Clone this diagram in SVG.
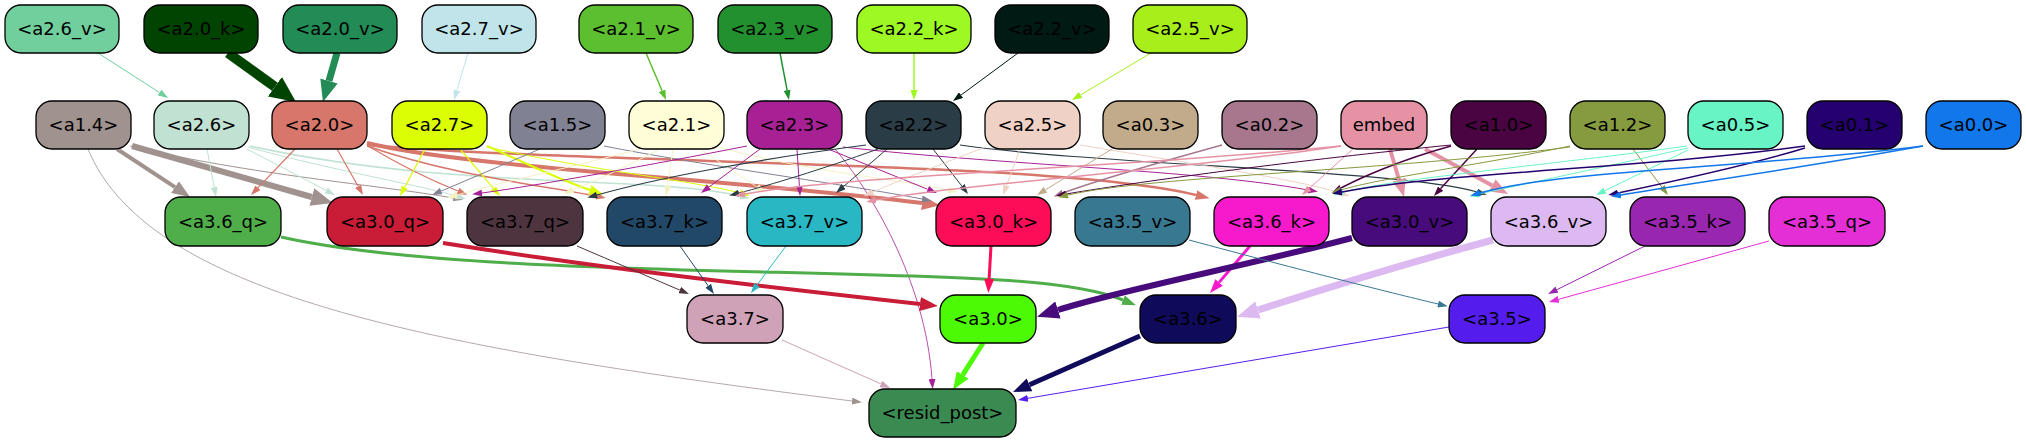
<svg xmlns="http://www.w3.org/2000/svg" width="2026" height="443" viewBox="0 0 2026 443">
<style>
.n rect{stroke:#000;stroke-width:1.3}
.n text{font-family:"DejaVu Sans",sans-serif;font-size:18px;text-anchor:middle;fill:#000}
#edges path{fill:none}
</style>
<defs>
<marker id="s" viewBox="0 0 10 7" refX="0" refY="3.5" markerWidth="10" markerHeight="7" markerUnits="userSpaceOnUse" orient="auto"><path d="M0,0L10,3.5L0,7z" fill="context-stroke"/></marker>
<marker id="m" viewBox="0 0 14 10" refX="0" refY="5" markerWidth="14" markerHeight="10" markerUnits="userSpaceOnUse" orient="auto"><path d="M0,0L14,5L0,10z" fill="context-stroke"/></marker>
<marker id="l" viewBox="0 0 18 14" refX="0" refY="7" markerWidth="18" markerHeight="14" markerUnits="userSpaceOnUse" orient="auto"><path d="M0,0L18,7L0,14z" fill="context-stroke"/></marker>
<marker id="x" viewBox="0 0 22 18" refX="0" refY="9" markerWidth="22" markerHeight="18" markerUnits="userSpaceOnUse" orient="auto"><path d="M0,0L22,9L0,18z" fill="context-stroke"/></marker>
<marker id="xx" viewBox="0 0 26 24" refX="0" refY="12" markerWidth="26" markerHeight="24" markerUnits="userSpaceOnUse" orient="auto"><path d="M0,0L26,12L0,24z" fill="context-stroke"/></marker>
</defs>
<rect width="2026" height="443" fill="#fff"/>
<g id="edges">
<path d="M98,53L159.6,92.6" stroke="#70cf9d" stroke-width="1" marker-end="url(#s)"/>
<path d="M228,53L274.9,86.8" stroke="#014401" stroke-width="10" marker-end="url(#xx)"/>
<path d="M337,53L329,80.9" stroke="#228b56" stroke-width="7" marker-end="url(#x)"/>
<path d="M468,53L456.9,90.4" stroke="#c0e4e9" stroke-width="1" marker-end="url(#s)"/>
<path d="M646,53L662.1,90.8" stroke="#5cbf2f" stroke-width="1.5" marker-end="url(#s)"/>
<path d="M780,53L787.1,90.2" stroke="#23902f" stroke-width="1.5" marker-end="url(#s)"/>
<path d="M914,53L914,90" stroke="#9df823" stroke-width="1.5" marker-end="url(#s)"/>
<path d="M1018,53L961,95.1" stroke="#011a14" stroke-width="1" marker-end="url(#s)"/>
<path d="M1151,53L1080.6,94.9" stroke="#a7ee1b" stroke-width="1" marker-end="url(#s)"/>
<path d="M117,149L175,187.1" stroke="#a0938f" stroke-width="4" marker-end="url(#l)"/>
<path d="M132,146L311.8,197" stroke="#a0938f" stroke-width="6" marker-end="url(#x)"/>
<path d="M130,146C250,175 380,185 453,198" stroke="#a0938f" stroke-width="1" marker-end="url(#s)"/>
<path d="M88,149C150,300 450,350 852,401" stroke="#a0938f" stroke-width="0.8" marker-end="url(#s)"/>
<path d="M207,149L214.2,187.2" stroke="#c1e2d2" stroke-width="1" marker-end="url(#s)"/>
<path d="M247,149L326.1,190.4" stroke="#c1e2d2" stroke-width="1" marker-end="url(#s)"/>
<path d="M248,147C330,170 420,185 456,196" stroke="#c1e2d2" stroke-width="1" marker-end="url(#s)"/>
<path d="M250,146C450,190 650,175 740,196" stroke="#c1e2d2" stroke-width="1.5" marker-end="url(#s)"/>
<path d="M295,149L257.9,187.8" stroke="#d7766a" stroke-width="1.2" marker-end="url(#s)"/>
<path d="M337,149L358.1,186.3" stroke="#d7766a" stroke-width="1.2" marker-end="url(#s)"/>
<path d="M368,146C400,165 430,180 458,191" stroke="#d7766a" stroke-width="1.2" marker-end="url(#s)"/>
<path d="M367,146C450,175 540,185 596,196" stroke="#d7766a" stroke-width="1.5" marker-end="url(#s)"/>
<path d="M367,143C470,168 720,178 922,203" stroke="#d7766a" stroke-width="4" marker-end="url(#l)"/>
<path d="M367,145C600,165 1050,160 1196,195" stroke="#d7766a" stroke-width="2.5" marker-end="url(#m)"/>
<path d="M425,149L404.7,187.2" stroke="#dcfe05" stroke-width="1.2" marker-end="url(#s)"/>
<path d="M460,149L493.5,188.4" stroke="#dcfe05" stroke-width="1.2" marker-end="url(#s)"/>
<path d="M487,146C530,165 560,180 590,190" stroke="#dcfe05" stroke-width="2" marker-end="url(#m)"/>
<path d="M487,147C600,172 690,180 740,193" stroke="#dcfe05" stroke-width="1" marker-end="url(#s)"/>
<path d="M540,149L441.2,191.1" stroke="#808294" stroke-width="1" marker-end="url(#s)"/>
<path d="M604,146C700,165 850,185 922,199" stroke="#808294" stroke-width="1" marker-end="url(#s)"/>
<path d="M640,149C560,170 490,185 457,195" stroke="#f4f2c4" stroke-width="1" marker-end="url(#s)"/>
<path d="M660,149C620,170 590,183 573,190" stroke="#f4f2c4" stroke-width="1" marker-end="url(#s)"/>
<path d="M673,149L667.6,186" stroke="#f4f2c4" stroke-width="1" marker-end="url(#s)"/>
<path d="M700,149L757,187" stroke="#f4f2c4" stroke-width="1" marker-end="url(#s)"/>
<path d="M718,147C800,170 900,180 948,190" stroke="#f4f2c4" stroke-width="1" marker-end="url(#s)"/>
<path d="M747,146C650,165 540,185 482,193" stroke="#a72195" stroke-width="1" marker-end="url(#s)"/>
<path d="M760,149L709,187" stroke="#a72195" stroke-width="1" marker-end="url(#s)"/>
<path d="M797,149L799.4,186" stroke="#a72195" stroke-width="1" marker-end="url(#s)"/>
<path d="M828,149L927.7,189.3" stroke="#a72195" stroke-width="1" marker-end="url(#s)"/>
<path d="M835,149C870,190 925,280 932,379" stroke="#a72195" stroke-width="0.8" marker-end="url(#s)"/>
<path d="M843,147C1000,165 1200,170 1308,190" stroke="#a72195" stroke-width="1" marker-end="url(#s)"/>
<path d="M866,145C750,160 650,180 597,195" stroke="#2a3c45" stroke-width="1.2" marker-end="url(#s)"/>
<path d="M878,149C820,170 770,185 739,193" stroke="#2a3c45" stroke-width="1" marker-end="url(#s)"/>
<path d="M887,149L843.6,186.5" stroke="#2a3c45" stroke-width="1" marker-end="url(#s)"/>
<path d="M933,149L961.9,186.1" stroke="#2a3c45" stroke-width="1" marker-end="url(#s)"/>
<path d="M960,145C1100,165 1400,170 1477,192" stroke="#2a3c45" stroke-width="1.2" marker-end="url(#s)"/>
<path d="M1020,149L1006.5,185.6" stroke="#efd2c5" stroke-width="1" marker-end="url(#s)"/>
<path d="M985,147C940,165 900,180 873,192" stroke="#efd2c5" stroke-width="1" marker-end="url(#s)"/>
<path d="M1080,145C1200,165 1300,180 1340,193" stroke="#efd2c5" stroke-width="1" marker-end="url(#s)"/>
<path d="M1112,149L1045.5,189.8" stroke="#c2ab8a" stroke-width="1" marker-end="url(#s)"/>
<path d="M1222,145C1150,165 1090,183 1063,193" stroke="#a7778e" stroke-width="1.5" marker-end="url(#s)"/>
<path d="M1341,146C1200,168 950,185 876,200" stroke="#e692a5" stroke-width="1.5" marker-end="url(#s)"/>
<path d="M1341,146C1150,166 850,175 745,194" stroke="#e692a5" stroke-width="1.5" marker-end="url(#s)"/>
<path d="M1353,149L1309.4,188.3" stroke="#e692a5" stroke-width="1" marker-end="url(#s)"/>
<path d="M1390,149L1399,179.7" stroke="#e692a5" stroke-width="4" marker-end="url(#l)"/>
<path d="M1425,149L1492.2,185.4" stroke="#e692a5" stroke-width="4" marker-end="url(#l)"/>
<path d="M1477,149L1440.7,188.6" stroke="#4a0442" stroke-width="1.5" marker-end="url(#s)"/>
<path d="M1451,146C1400,160 1360,178 1341,188" stroke="#4a0442" stroke-width="1.5" marker-end="url(#s)"/>
<path d="M1451,145C1300,160 1150,180 1066,194" stroke="#4a0442" stroke-width="1" marker-end="url(#s)"/>
<path d="M1633,149L1661.9,187" stroke="#869a40" stroke-width="1" marker-end="url(#s)"/>
<path d="M1570,146C1480,165 1380,178 1341,190" stroke="#869a40" stroke-width="1" marker-end="url(#s)"/>
<path d="M1570,147C1400,170 1150,176 1068,195" stroke="#869a40" stroke-width="1" marker-end="url(#s)"/>
<path d="M1688,150L1605,190.6" stroke="#68f4c5" stroke-width="1" marker-end="url(#s)"/>
<path d="M1687,146C1550,165 1400,178 1343,192" stroke="#68f4c5" stroke-width="1" marker-end="url(#s)"/>
<path d="M1688,148C1600,168 1520,185 1479,194" stroke="#68f4c5" stroke-width="1" marker-end="url(#s)"/>
<path d="M1805,148C1750,165 1680,180 1618,193" stroke="#25016f" stroke-width="1.5" marker-end="url(#s)"/>
<path d="M1805,146C1650,168 1450,172 1342,192" stroke="#25016f" stroke-width="1.5" marker-end="url(#s)"/>
<path d="M1923,146C1800,168 1700,182 1621,195" stroke="#1177ea" stroke-width="1.5" marker-end="url(#s)"/>
<path d="M1923,146C1750,168 1560,170 1480,193" stroke="#1177ea" stroke-width="1.5" marker-end="url(#s)"/>
<path d="M281,237C450,275 800,268 1000,280C1080,285 1108,294 1123,300" stroke="#4fae4a" stroke-width="3" marker-end="url(#m)"/>
<path d="M443,243C600,268 750,285 920,304" stroke="#c91c36" stroke-width="4" marker-end="url(#l)"/>
<path d="M577,246L679.8,290.1" stroke="#4d343f" stroke-width="1" marker-end="url(#s)"/>
<path d="M680,246L708.2,285.8" stroke="#224867" stroke-width="1" marker-end="url(#s)"/>
<path d="M786,246L757,285" stroke="#29b7c3" stroke-width="1" marker-end="url(#s)"/>
<path d="M991,246L989.1,279" stroke="#fd0c58" stroke-width="3" marker-end="url(#m)"/>
<path d="M1250,246L1219.1,282.4" stroke="#f719cc" stroke-width="3" marker-end="url(#m)"/>
<path d="M1352,238C1250,265 1120,290 1058,310" stroke="#470b7b" stroke-width="6" marker-end="url(#x)"/>
<path d="M1493,240C1400,265 1320,290 1258,310" stroke="#dcb9f0" stroke-width="7" marker-end="url(#x)"/>
<path d="M1189,240C1300,270 1400,295 1438,304" stroke="#387891" stroke-width="1" marker-end="url(#s)"/>
<path d="M1645,246L1557,289.6" stroke="#9926ae" stroke-width="1" marker-end="url(#s)"/>
<path d="M1769,241L1558.6,299.3" stroke="#e42fd6" stroke-width="1" marker-end="url(#s)"/>
<path d="M782,340L880.9,383.9" stroke="#cfa2b7" stroke-width="1" marker-end="url(#s)"/>
<path d="M983,343L962.7,374.9" stroke="#4dfa05" stroke-width="5" marker-end="url(#l)"/>
<path d="M1140,336L1029.5,384.8" stroke="#0f0b5a" stroke-width="5" marker-end="url(#l)"/>
<path d="M1449,327L1027.9,398.3" stroke="#551ded" stroke-width="1" marker-end="url(#s)"/>
</g>
<g id="a2.6_v" class="n"><rect x="5" y="5" width="114" height="48" rx="16" fill="#70cf9d"/><text x="62" y="35">&lt;a2.6_v&gt;</text></g>
<g id="a2.0_k" class="n"><rect x="144" y="5" width="114" height="48" rx="16" fill="#014401"/><text x="201" y="35">&lt;a2.0_k&gt;</text></g>
<g id="a2.0_v" class="n"><rect x="283" y="5" width="114" height="48" rx="16" fill="#228b56"/><text x="340" y="35">&lt;a2.0_v&gt;</text></g>
<g id="a2.7_v" class="n"><rect x="422" y="5" width="114" height="48" rx="16" fill="#c0e4e9"/><text x="479" y="35">&lt;a2.7_v&gt;</text></g>
<g id="a2.1_v" class="n"><rect x="579" y="5" width="114" height="48" rx="16" fill="#5cbf2f"/><text x="636" y="35">&lt;a2.1_v&gt;</text></g>
<g id="a2.3_v" class="n"><rect x="718" y="5" width="114" height="48" rx="16" fill="#23902f"/><text x="775" y="35">&lt;a2.3_v&gt;</text></g>
<g id="a2.2_k" class="n"><rect x="857" y="5" width="114" height="48" rx="16" fill="#9df823"/><text x="914" y="35">&lt;a2.2_k&gt;</text></g>
<g id="a2.2_v" class="n"><rect x="995" y="5" width="114" height="48" rx="16" fill="#011a14"/><text x="1052" y="35">&lt;a2.2_v&gt;</text></g>
<g id="a2.5_v" class="n"><rect x="1133" y="5" width="114" height="48" rx="16" fill="#a7ee1b"/><text x="1190" y="35">&lt;a2.5_v&gt;</text></g>
<g id="a1.4" class="n"><rect x="36" y="101" width="95" height="48" rx="16" fill="#a0938f"/><text x="83.5" y="131">&lt;a1.4&gt;</text></g>
<g id="a2.6" class="n"><rect x="154" y="101" width="95" height="48" rx="16" fill="#c1e2d2"/><text x="201.5" y="131">&lt;a2.6&gt;</text></g>
<g id="a2.0" class="n"><rect x="272" y="101" width="95" height="48" rx="16" fill="#d7766a"/><text x="319.5" y="131">&lt;a2.0&gt;</text></g>
<g id="a2.7" class="n"><rect x="392" y="101" width="95" height="48" rx="16" fill="#dcfe05"/><text x="439.5" y="131">&lt;a2.7&gt;</text></g>
<g id="a1.5" class="n"><rect x="510" y="101" width="95" height="48" rx="16" fill="#808294"/><text x="557.5" y="131">&lt;a1.5&gt;</text></g>
<g id="a2.1" class="n"><rect x="629" y="101" width="95" height="48" rx="16" fill="#fffed6"/><text x="676.5" y="131">&lt;a2.1&gt;</text></g>
<g id="a2.3" class="n"><rect x="747" y="101" width="95" height="48" rx="16" fill="#a72195"/><text x="794.5" y="131">&lt;a2.3&gt;</text></g>
<g id="a2.2" class="n"><rect x="866" y="101" width="95" height="48" rx="16" fill="#2a3c45"/><text x="913.5" y="131">&lt;a2.2&gt;</text></g>
<g id="a2.5" class="n"><rect x="985" y="101" width="95" height="48" rx="16" fill="#efd2c5"/><text x="1032.5" y="131">&lt;a2.5&gt;</text></g>
<g id="a0.3" class="n"><rect x="1103" y="101" width="95" height="48" rx="16" fill="#c2ab8a"/><text x="1150.5" y="131">&lt;a0.3&gt;</text></g>
<g id="a0.2" class="n"><rect x="1222" y="101" width="95" height="48" rx="16" fill="#a7778e"/><text x="1269.5" y="131">&lt;a0.2&gt;</text></g>
<g id="embed" class="n"><rect x="1341" y="101" width="86" height="48" rx="16" fill="#e692a5"/><text x="1384" y="131">embed</text></g>
<g id="a1.0" class="n"><rect x="1451" y="101" width="95" height="48" rx="16" fill="#4a0442"/><text x="1498.5" y="131">&lt;a1.0&gt;</text></g>
<g id="a1.2" class="n"><rect x="1570" y="101" width="95" height="48" rx="16" fill="#869a40"/><text x="1617.5" y="131">&lt;a1.2&gt;</text></g>
<g id="a0.5" class="n"><rect x="1688" y="101" width="95" height="48" rx="16" fill="#68f4c5"/><text x="1735.5" y="131">&lt;a0.5&gt;</text></g>
<g id="a0.1" class="n"><rect x="1807" y="101" width="95" height="48" rx="16" fill="#25016f"/><text x="1854.5" y="131">&lt;a0.1&gt;</text></g>
<g id="a0.0" class="n"><rect x="1926" y="101" width="95" height="48" rx="16" fill="#1177ea"/><text x="1973.5" y="131">&lt;a0.0&gt;</text></g>
<g id="a3.6_q" class="n"><rect x="165" y="197" width="116" height="49" rx="16" fill="#4fae4a"/><text x="223" y="228">&lt;a3.6_q&gt;</text></g>
<g id="a3.0_q" class="n"><rect x="327" y="197" width="116" height="49" rx="16" fill="#c91c36"/><text x="385" y="228">&lt;a3.0_q&gt;</text></g>
<g id="a3.7_q" class="n"><rect x="467" y="197" width="116" height="49" rx="16" fill="#4d343f"/><text x="525" y="228">&lt;a3.7_q&gt;</text></g>
<g id="a3.7_k" class="n"><rect x="607" y="197" width="115" height="49" rx="16" fill="#224867"/><text x="664.5" y="228">&lt;a3.7_k&gt;</text></g>
<g id="a3.7_v" class="n"><rect x="747" y="197" width="115" height="49" rx="16" fill="#29b7c3"/><text x="804.5" y="228">&lt;a3.7_v&gt;</text></g>
<g id="a3.0_k" class="n"><rect x="936" y="197" width="115" height="49" rx="16" fill="#fd0c58"/><text x="993.5" y="228">&lt;a3.0_k&gt;</text></g>
<g id="a3.5_v" class="n"><rect x="1075" y="197" width="115" height="49" rx="16" fill="#387891"/><text x="1132.5" y="228">&lt;a3.5_v&gt;</text></g>
<g id="a3.6_k" class="n"><rect x="1214" y="197" width="115" height="49" rx="16" fill="#f719cc"/><text x="1271.5" y="228">&lt;a3.6_k&gt;</text></g>
<g id="a3.0_v" class="n"><rect x="1352" y="197" width="115" height="49" rx="16" fill="#470b7b"/><text x="1409.5" y="228">&lt;a3.0_v&gt;</text></g>
<g id="a3.6_v" class="n"><rect x="1491" y="197" width="115" height="49" rx="16" fill="#dcb9f0"/><text x="1548.5" y="228">&lt;a3.6_v&gt;</text></g>
<g id="a3.5_k" class="n"><rect x="1630" y="197" width="115" height="49" rx="16" fill="#9926ae"/><text x="1687.5" y="228">&lt;a3.5_k&gt;</text></g>
<g id="a3.5_q" class="n"><rect x="1769" y="197" width="116" height="49" rx="16" fill="#e42fd6"/><text x="1827" y="228">&lt;a3.5_q&gt;</text></g>
<g id="a3.7" class="n"><rect x="687" y="295" width="96" height="48" rx="16" fill="#cfa2b7"/><text x="735" y="325">&lt;a3.7&gt;</text></g>
<g id="a3.0" class="n"><rect x="940" y="295" width="96" height="48" rx="16" fill="#4dfa05"/><text x="988" y="325">&lt;a3.0&gt;</text></g>
<g id="a3.6" class="n"><rect x="1140" y="295" width="96" height="48" rx="16" fill="#0f0b5a"/><text x="1188" y="325">&lt;a3.6&gt;</text></g>
<g id="a3.5" class="n"><rect x="1449" y="295" width="96" height="48" rx="16" fill="#551ded"/><text x="1497" y="325">&lt;a3.5&gt;</text></g>
<g id="resid_post" class="n"><rect x="869" y="389" width="147" height="48" rx="16" fill="#3a8a52"/><text x="942.5" y="419">&lt;resid_post&gt;</text></g>
</svg>
